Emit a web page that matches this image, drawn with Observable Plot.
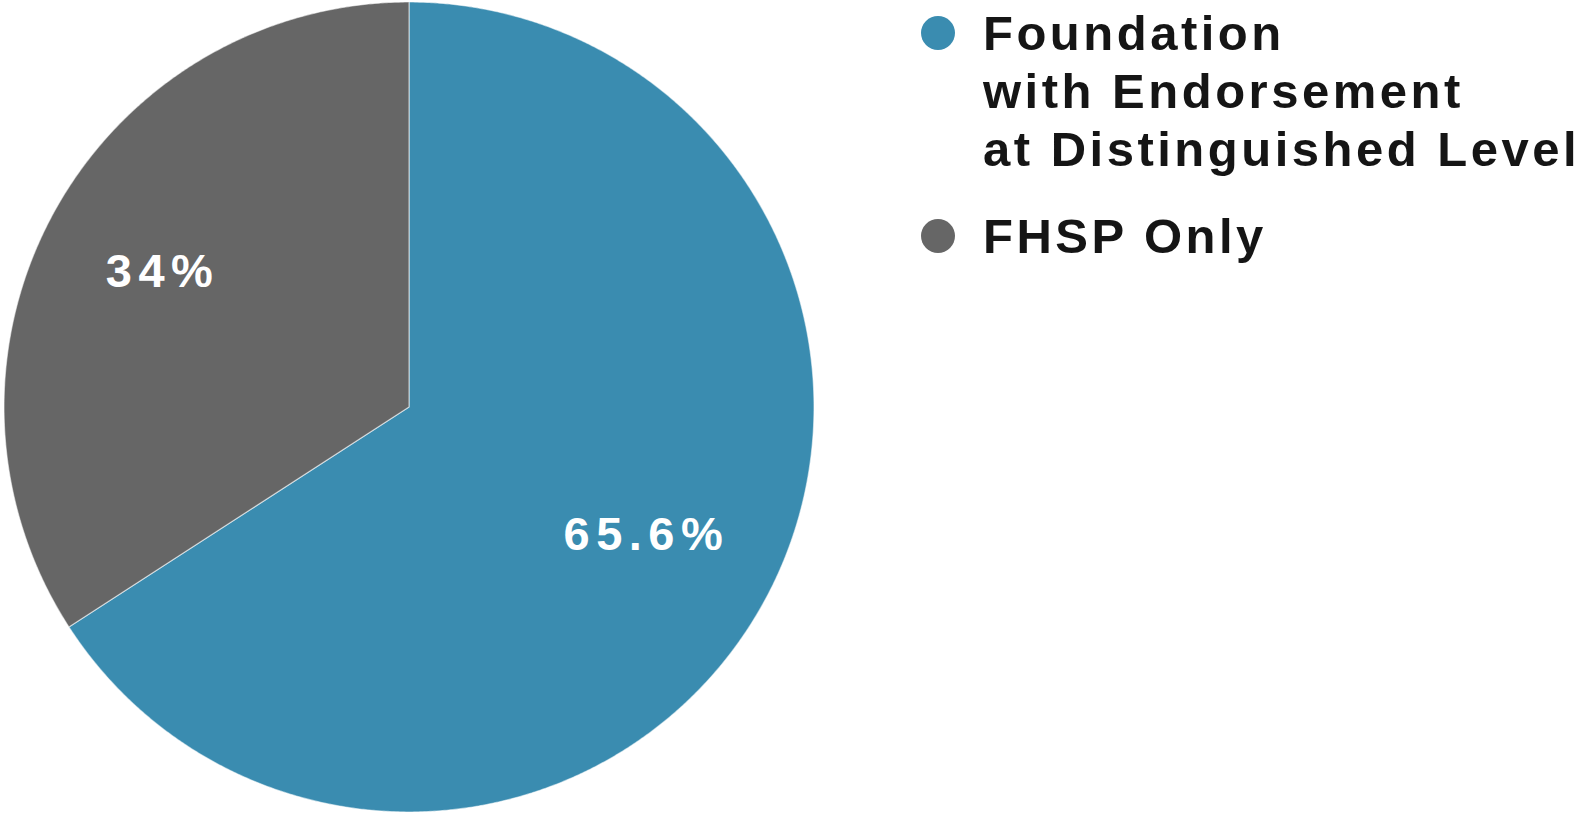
<!DOCTYPE html>
<html>
<head>
<meta charset="utf-8">
<script src="https://cdn.jsdelivr.net/npm/d3@7"></script>
<script src="https://cdn.jsdelivr.net/npm/@observablehq/plot@0.6"></script>
<style>
  html, body { margin: 0; padding: 0; background: #fff; }
  #wrap { position: relative; width: 1575px; height: 815px; overflow: hidden; }
  #chart { position: absolute; left: 0; top: 0; }
  .pielabels text { letter-spacing: 6.5px; }
  #legend {
    position: absolute; left: 921px; top: 0;
    font-family: "Liberation Sans", Arial, sans-serif; font-weight: bold;
    font-size: 49px; line-height: 58px; letter-spacing: 3.5px; color: #151515;
    white-space: nowrap;
  }
  .item { display: flex; align-items: flex-start; padding-top: 4px; }
  .item + .item { margin-top: 29px; padding-top: 0; }
  .dot { width: 34px; height: 34px; border-radius: 50%; margin-top: 12px; margin-right: 28px; flex: none; }
</style>
</head>
<body>
<div id="wrap">
  <div id="chart"></div>
  <div id="legend"></div>
</div>
<script>
const categories = ["Foundation\nwith Endorsement\nat Distinguished Level", "FHSP Only"];
const values = [65.6, 34];
const labels = ["65.6%", "34%"];
const colors = ["#3a8cb0", "#666666"];

const arcs = d3.pie().sort(null).value((d, i) => values[i])(categories.map((c, i) => i));
const slices = arcs.map(a => ({
  cat: categories[a.data], start: a.startAngle, end: a.endAngle,
  mid: (a.startAngle + a.endAngle) / 2, label: labels[a.data]
}));

// outline points along each slice's arc (apex at the centre)
const pts = [];
for (const s of slices) {
  const n = Math.max(2, Math.ceil((s.end - s.start) / 0.005));
  for (let k = 0; k <= n; k++) {
    const t = s.start + (s.end - s.start) * k / n;
    pts.push({cat: s.cat, x: Math.sin(t), y: Math.cos(t)});
  }
}
const labelR = 0.68;

const plot = Plot.plot({
  width: 820, height: 815,
  marginLeft: 4, marginRight: 6, marginTop: 2, marginBottom: 3,
  x: {domain: [-1, 1], axis: null},
  y: {domain: [-1, 1], axis: null},
  color: {domain: categories, range: colors},
  style: {fontFamily: "'Liberation Sans', Arial, sans-serif", background: "transparent"},
  marks: [
    Plot.area(pts, {x1: 0, y1: 0, x2: "x", y2: "y", z: "cat", fill: "cat",
      stroke: "#ffffff", strokeWidth: 1.2, strokeOpacity: 0.55}),
    Plot.text(slices, {x: d => labelR * Math.sin(d.mid), y: d => labelR * Math.cos(d.mid),
      text: "label", fill: "white", fontSize: 47, fontWeight: "bold", dx: -5, dy: -4, className: "pielabels"})
  ]
});
document.getElementById("chart").appendChild(plot);

const legend = document.getElementById("legend");
categories.forEach((c, i) => {
  const item = document.createElement("div");
  item.className = "item";
  const dot = document.createElement("span");
  dot.className = "dot";
  dot.style.background = colors[i];
  const txt = document.createElement("div");
  txt.innerHTML = c.split("\n").join("<br>");
  item.appendChild(dot);
  item.appendChild(txt);
  legend.appendChild(item);
});
</script>
</body>
</html>
